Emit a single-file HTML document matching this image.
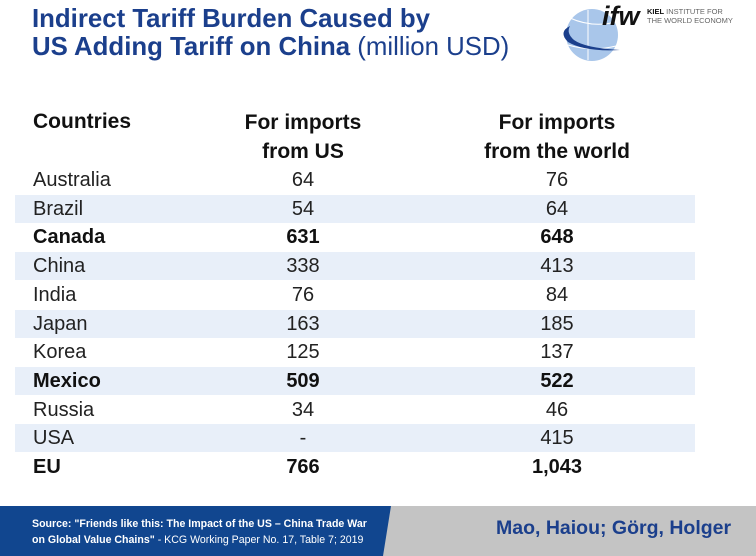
<!DOCTYPE html>
<html><head><meta charset="utf-8"><style>
body{margin:0;width:756px;height:556px;overflow:hidden;background:#fff;font-family:"Liberation Sans",sans-serif;position:relative}
.t{position:absolute;white-space:nowrap}
.title{left:32px;color:#1b3f8c;font-weight:bold;font-size:25.8px;letter-spacing:0px}
.hd{font-weight:bold;font-size:21px;color:#111}
.row{position:absolute;left:15px;width:680px;height:28px}
.cell{position:absolute;top:0;line-height:28px;font-size:20px;color:#222}
.c1{left:18px}.c2{left:238px;width:100px;text-align:center}.c3{left:492px;width:100px;text-align:center}
.b .cell{font-weight:bold;color:#111}
</style></head><body>
<div class="t title" style="top:5px">Indirect Tariff Burden Caused by</div>
<div class="t title" style="top:33px">US Adding Tariff on China <span style="font-weight:normal;color:#1b3f8c">(million USD)</span></div>
<svg class="t" style="left:540px;top:0" width="216" height="70">
<circle cx="52" cy="35" r="26" fill="#a9c6ea"/>
<path d="M48 10 L48 60 M30 18 Q52 28 76 22 M28 45 Q52 52 76 46" stroke="#fff" stroke-width="1" fill="none"/>
<path d="M30 26 Q18 32 28 42 Q45 52 80 50 Q45 48 34 40 Q26 33 30 26 Z" fill="#1b3f8c"/>
<text x="62" y="25" font-family="Liberation Sans" font-weight="bold" font-style="italic" font-size="27" fill="#111">ifw</text>
<text x="107" y="14" font-family="Liberation Sans" font-size="7.5" fill="#666"><tspan font-weight="bold" fill="#111">KIEL</tspan> INSTITUTE FOR</text>
<text x="107" y="23" font-family="Liberation Sans" font-size="7.5" fill="#666">THE WORLD ECONOMY</text>
</svg>
<div class="t hd" style="left:33px;top:110px">Countries</div>
<div class="t hd" style="left:213px;width:180px;text-align:center;top:108px;line-height:29px;white-space:normal">For imports<br>from US</div>
<div class="t hd" style="left:467px;width:180px;text-align:center;top:108px;line-height:29px;white-space:normal">For imports<br>from the world</div>
<div id="tbl"></div>
<div class="t" style="left:0;top:506px;width:756px;height:50px;background:#c4c4c4"></div>
<svg class="t" style="left:0;top:506px" width="400" height="50"><polygon points="0,0 391,0 383,50 0,50" fill="#11468f"/></svg>
<div class="t" style="left:32px;top:516px;color:#fff;font-size:10.6px;line-height:16px;font-weight:bold">Source: "Friends like this: The Impact of the US – China Trade War<br>on Global Value Chains" <span style="font-weight:normal">- KCG Working Paper No. 17, Table 7; 2019</span></div>
<div class="t" style="left:496px;top:517px;color:#1b3f8c;font-size:19.5px;font-weight:bold">Mao, Haiou; Görg, Holger</div>
<script>
const countries=["Australia","Brazil","Canada","China","India","Japan","Korea","Mexico","Russia","USA","EU"];
const fromUS=["64","54","631","338","76","163","125","509","34","-","766"];
const fromWorld=["76","64","648","413","84","185","137","522","46","415","1,043"];
const bold=[0,0,1,0,0,0,0,1,0,0,1];
const tbl=document.getElementById('tbl');
countries.forEach((c,i)=>{
const r=document.createElement('div');
r.className='row'+(bold[i]?' b':'');
r.style.top=(166+i*28.7)+'px';
if(i%2==1)r.style.background='#e8eff9';


r.innerHTML='<div class="cell c1">'+c+'</div><div class="cell c2">'+fromUS[i]+'</div><div class="cell c3">'+fromWorld[i]+'</div>';
tbl.appendChild(r);
});
</script>
</body></html>
